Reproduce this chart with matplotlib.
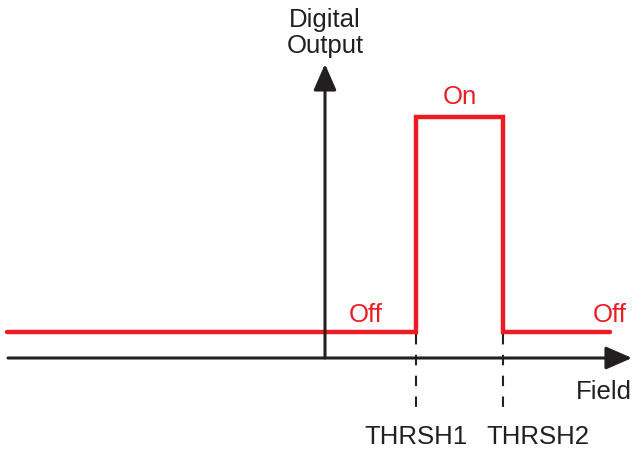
import matplotlib.pyplot as plt

# field positions (pixel-like units) and output levels
field = [7, 416, 416, 503, 503, 610]
output = [332, 332, 117, 117, 332, 332]
thresholds = [416, 503]
thr_labels = ['THRSH1', 'THRSH2']
thr_label_x = [416, 538]

red = '#ED1C24'
dark = '#231F20'
fs = 18.5
plt.rcParams['font.family'] = ['Liberation Sans', 'DejaVu Sans']

fig = plt.figure(figsize=(6.34, 4.5), dpi=100)
ax = fig.add_axes([0, 0, 1, 1])
ax.set_xlim(0, 634)
ax.set_ylim(450, 0)
ax.axis('off')

# axes arrows
head = '-|>,head_length=1.6,head_width=0.7'
ax.annotate('', xy=(632, 358), xytext=(8, 358),
            arrowprops=dict(arrowstyle=head, color=dark, lw=2.2, shrinkA=0, shrinkB=0))
ax.annotate('', xy=(325, 64), xytext=(325, 358),
            arrowprops=dict(arrowstyle=head, color=dark, lw=2.2, shrinkA=0, shrinkB=0))

# threshold dashed lines
for t, lx, lab in zip(thresholds, thr_label_x, thr_labels):
    ax.plot([t, t], [334, 410], color=dark, lw=1.5, ls=(0, (5, 5)))
    ax.text(lx, 437, lab, ha='center', va='center', fontsize=fs, color=dark)

# output trace
ax.plot(field, output, color=red, lw=3.2, solid_capstyle='round', solid_joinstyle='miter')

ax.text(366, 315, 'Off', ha='center', va='center', fontsize=fs, color=red)
ax.text(610, 315, 'Off', ha='center', va='center', fontsize=fs, color=red)
ax.text(460, 97, 'On', ha='center', va='center', fontsize=fs, color=red)
ax.text(604, 392, 'Field', ha='center', va='center', fontsize=fs, color=dark)
ax.text(325, 33, 'Digital\nOutput', ha='center', va='center', fontsize=fs,
        color=dark, linespacing=1.15)

fig.savefig('out.png', dpi=100)
